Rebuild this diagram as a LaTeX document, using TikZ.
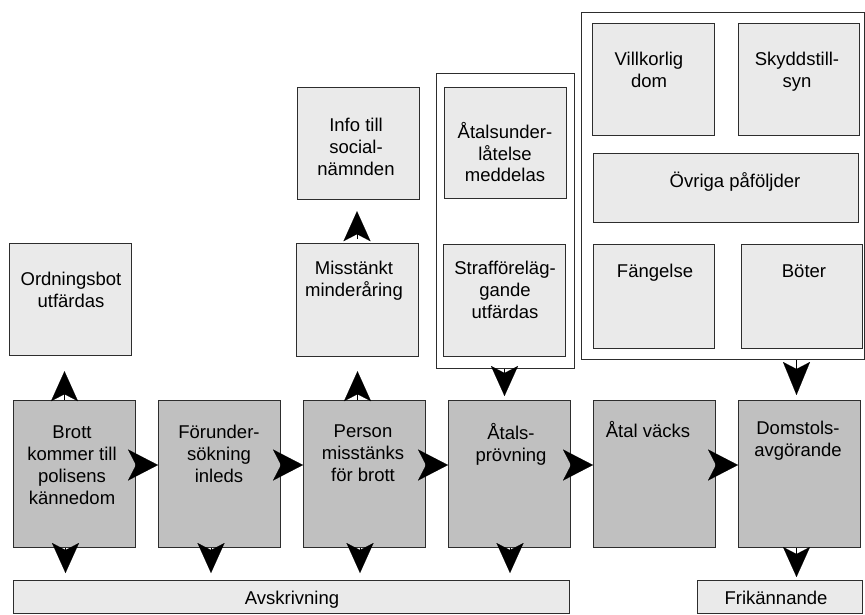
\documentclass[tikz,border=0pt]{standalone}
\usepackage{fontspec}
\setmainfont{Liberation Sans}
\usetikzlibrary{arrows.meta}
\definecolor{boxdark}{RGB}{192,192,192}
\definecolor{boxlight}{RGB}{234,234,234}
\definecolor{edge}{RGB}{45,45,45}
\begin{document}
\begin{tikzpicture}[x=1pt,y=-1pt,
  box/.style={draw=edge, line width=1.2pt, inner sep=0pt, anchor=north west},
  dark/.style={box, fill=boxdark},
  light/.style={box, fill=boxlight},
  frame/.style={box, fill=white},
  txt/.style={anchor=north, inner sep=0pt, align=center,
    font=\fontsize{18.5}{21.7}\selectfont, execute at begin node={\rule{0pt}{15pt}}},
  harr/.style={-{Stealth[length=30pt,width=31pt,inset=8pt]}, line width=0.1pt},
  varr/.style={-{Stealth[length=30pt,width=27pt,inset=7pt]}, line width=0.1pt},
  varrl/.style={-{Stealth[length=33pt,width=27pt,inset=7pt]}, line width=0.1pt},
]
\useasboundingbox (0,0) rectangle (865,614);

% frames
\node[frame, minimum width=138, minimum height=295] (atfr) at (436,73) {};
\node[frame, minimum width=283, minimum height=347] (pfr) at (581,12) {};

% light boxes
\node[light, minimum width=122, minimum height=112] (ordn) at (9,243) {};
\node[light, minimum width=122, minimum height=113] (misst) at (296,243) {};
\node[light, minimum width=122, minimum height=112] (info) at (297,87) {};
\node[light, minimum width=122, minimum height=111] (atund) at (444,87) {};
\node[light, minimum width=122, minimum height=112] (straff) at (443,244) {};
\node[light, minimum width=122, minimum height=112] (villk) at (592,23) {};
\node[light, minimum width=121, minimum height=112] (skydd) at (738,23) {};
\node[light, minimum width=265, minimum height=69] (ovriga) at (593,153) {};
\node[light, minimum width=121, minimum height=104] (fang) at (593,244) {};
\node[light, minimum width=121, minimum height=104] (boter) at (741,244) {};
\node[light, minimum width=556, minimum height=33] (avskr) at (13,580) {};
\node[light, minimum width=165, minimum height=33] (frik) at (697,580) {};

% main row
\node[dark, minimum width=122, minimum height=147] (brott) at (13,400) {};
\node[dark, minimum width=122, minimum height=147] (forunder) at (158,400) {};
\node[dark, minimum width=122, minimum height=147] (person) at (303,400) {};
\node[dark, minimum width=122, minimum height=147] (atals) at (448,400) {};
\node[dark, minimum width=122, minimum height=147] (vacks) at (593,400) {};
\node[dark, minimum width=122, minimum height=147] (domstol) at (738,400) {};

% texts (node placed at first baseline - 15)
\node[txt] (ordn-t) at (71,272) {Ordningsbot\\utfärdas};
\node[txt] (misst-t) at (354,261) {Misstänkt\\minderåring};
\node[txt] (info-t) at (356,118) {Info till\\social-\\nämnden};
\node[txt] (atund-t) at (505,122) {Åtalsunder-\\låtelse\\meddelas};
\node[txt] (straff-t) at (505,261) {Strafföreläg-\\gande\\utfärdas};
\node[txt] (villk-t) at (649,52) {Villkorlig\\dom};
\node[txt] (skydd-t) at (797,52) {Skyddstill-\\syn};
\node[txt] (ovriga-t) at (735,172) {Övriga påföljder};
\node[txt] (fang-t) at (655,262) {Fängelse};
\node[txt] (boter-t) at (804,262) {Böter};
\node[txt] (brott-t) at (72,426) {Brott\\kommer till\\polisens\\kännedom};
\node[txt] (forunder-t) at (219,425) {Förunder-\\sökning\\inleds};
\node[txt] (person-t) at (363,425) {Person\\misstänks\\för brott};
\node[txt] (atals-t) at (511,423) {Åtals-\\prövning};
\node[txt] (vacks-t) at (648,421) {Åtal väcks};
\node[txt] (domstol-t) at (798,421) {Domstols-\\avgörande};
\node[txt] (avskr-t) at (292,589) {Avskrivning};
\node[txt] (frik-t) at (776,589) {Frikännande};

% arrow positions
\coordinate (rowy) at (0,465);
\coordinate (u1) at (64.5,0);
\coordinate (u2) at (357.5,0);
\coordinate (u3) at (357,0);
\coordinate (d1) at (65.5,0);
\coordinate (d2) at (211,0);
\coordinate (d3) at (360,0);
\coordinate (d4) at (510,0);
\coordinate (d5) at (796.5,0);
\coordinate (d6) at (504.5,0);
\coordinate (d7) at (796.5,0);

% horizontal arrows
\draw[harr] (brott.east|-rowy) -- (forunder.west|-rowy);
\draw[harr] (forunder.east|-rowy) -- (person.west|-rowy);
\draw[harr] (person.east|-rowy) -- (atals.west|-rowy);
\draw[harr] (atals.east|-rowy) -- (vacks.west|-rowy);
\draw[harr] (vacks.east|-rowy) -- (domstol.west|-rowy);

% up arrows
\draw[varr, shorten >=15pt] (brott.north-|u1) -- (ordn.south-|u1);
\draw[varr, shorten >=14pt] (person.north-|u2) -- (misst.south-|u2);
\draw[varr, shorten >=11pt, shorten <=4pt] (misst.north-|u3) -- (info.south-|u3);

% down arrows
\draw[varr, shorten >=7pt] (brott.south-|d1) -- (avskr.north-|d1);
\draw[varr, shorten >=7pt] (forunder.south-|d2) -- (avskr.north-|d2);
\draw[varr, shorten >=7pt] (person.south-|d3) -- (avskr.north-|d3);
\draw[varr, shorten >=7pt] (atals.south-|d4) -- (avskr.north-|d4);
\draw[varr, shorten >=3pt] (domstol.south-|d5) -- (frik.north-|d5);
\draw[varr, shorten >=4pt] (atfr.south-|d6) -- (atals.north-|d6);
\draw[varrl, shorten >=5pt] (pfr.south-|d7) -- (domstol.north-|d7);
\end{tikzpicture}
\end{document}
